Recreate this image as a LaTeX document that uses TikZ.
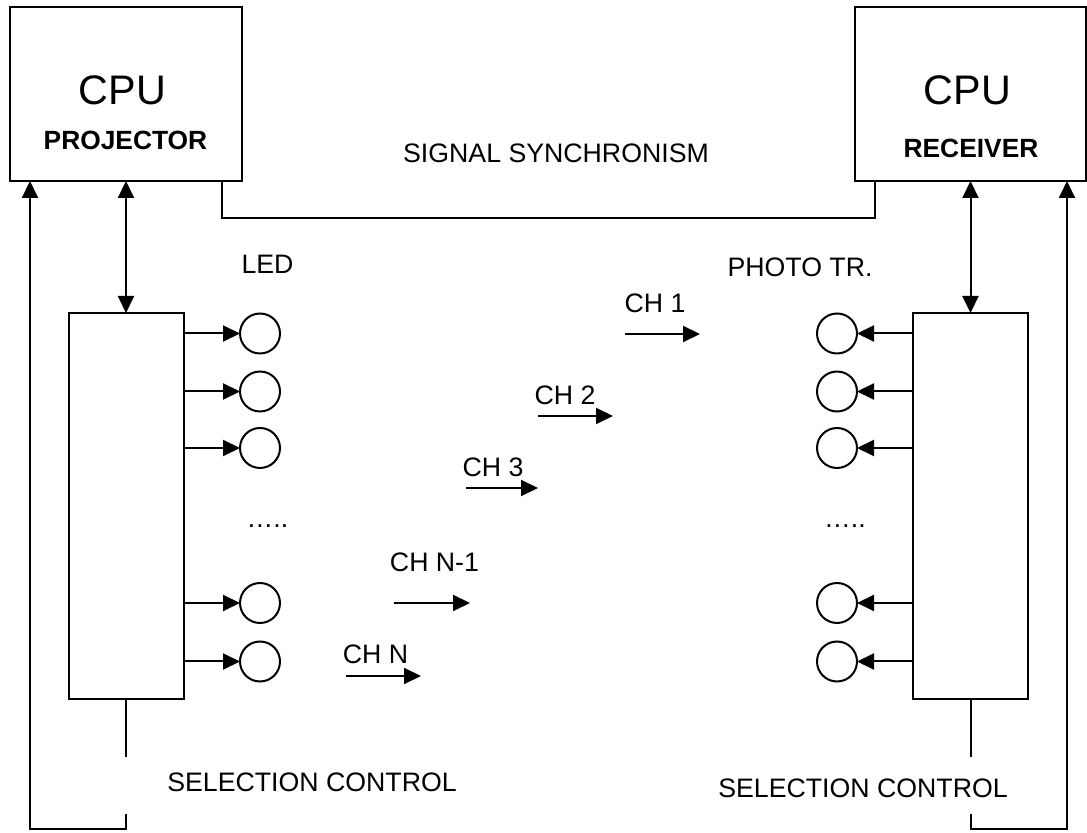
\documentclass[tikz,border=0pt]{standalone}
\usepackage{fontspec}
\setmainfont{Liberation Sans}
\usetikzlibrary{arrows.meta}
\definecolor{ink}{gray}{0.0}

\begin{document}
\begin{tikzpicture}[x=1mm,y=1mm,
  every node/.style={inner sep=0pt,outer sep=0pt,text=ink},
  box/.style={draw=ink,line width=0.4mm},
  lamp/.style={draw=ink,line width=0.4mm,circle,minimum size=8mm},
  lbl/.style={font=\fontsize{15.2}{18}\selectfont},
  big/.style={font=\fontsize{23.5}{27}\selectfont},
  bld/.style={font=\bfseries\fontsize{15}{18}\selectfont},
  wire/.style={draw=ink,line width=0.4mm},
  feed/.style={wire,-{Triangle[length=3.4mm,width=3.2mm]}},
  both/.style={wire,{Triangle[length=3.4mm,width=3.2mm]}-{Triangle[length=3.4mm,width=3.2mm]}}]

\useasboundingbox (0,0) rectangle (217.4,166.6);

% ---- processors ----------------------------------------------------------
\node[box,minimum width=46.4mm,minimum height=34.8mm] (cpuL) at (25.2,147.8) {};
\node[big] (cpuLt) at (24.5,148.6) {CPU};
\node[bld] (cpuLs) at (25.1,138.6) {PROJECTOR};
\node[box,minimum width=46.2mm,minimum height=34.8mm] (cpuR) at (194.1,147.8) {};
\node[big] (cpuRt) at (193.5,148.6) {CPU};
\node[bld] (cpuRs) at (194.2,137) {RECEIVER};

% ---- synchronism ---------------------------------------------------------
\node[lbl] (sync) at (111.2,136) {SIGNAL SYNCHRONISM};
\draw[wire] ([xshift=-4mm]cpuL.south east) |- ([xshift=4mm,yshift=-7.4mm]cpuR.south west)
  -- ([xshift=4mm]cpuR.south west);

% ---- drivers -------------------------------------------------------------
\node[box,minimum width=23mm,minimum height=77.2mm] (drvL) at (25.2,65.4) {};
\node[box,minimum width=23mm,minimum height=77.2mm] (drvR) at (194.1,65.4) {};
\draw[both] (cpuL.south) -- (drvL.north);
\draw[both] (cpuR.south) -- (drvR.north);

\node[lbl] (led) at (53.5,113.8) {LED};
\node[lbl] (photo) at (160,113.2) {PHOTO TR.};

% ---- emitters and receivers ----------------------------------------------
\foreach \i/\y in {1/99.9,2/88.3,3/77,4/46,5/34.3} {
  \node[lamp] (led\i) at (52,\y) {};
  \draw[feed] (drvL.east |- led\i) -- (led\i.west);
  \node[lamp] (pt\i) at (167.4,\y) {};
  \draw[feed] (drvR.west |- pt\i) -- (pt\i.east);
}
\node[lbl] (dotsL) at (53.5,61.3) {…..};
\node[lbl] (dotsR) at (169,61.3) {…..};

% ---- channels ------------------------------------------------------------
\foreach \i/\x/\y/\t/\a/\b/\c in {1/131/106/{CH 1}/125/140/99.8,
                                  2/113/87.6/{CH 2}/107.6/122.6/83.4,
                                  3/98.6/73.2/{CH 3}/93.2/107.6/69,
                                  4/86.9/54.2/{CH N-1}/78.8/94/46,
                                  5/75.1/35.8/{CH N}/69.2/84.2/31.4} {
  \node[lbl] (ch\i) at (\x,\y) {\t};
  \coordinate (ch\i s) at (\a,\c);
  \coordinate (ch\i e) at (\b,\c);
  \draw[feed] (ch\i s) -- (ch\i e);
}

% ---- selection control ---------------------------------------------------
\node[lbl] (selL) at (62.4,10.2) {SELECTION CONTROL};
\node[lbl] (selR) at (172.6,9) {SELECTION CONTROL};
\coordinate (retL) at (25.2,3.8);
\coordinate (retR) at (194.1,3.8);
\draw[wire] (drvL.south) -- ++(0,-11.6);
\draw[wire] (drvR.south) -- ++(0,-11.6);
\draw[feed] (retL) -- ++(0,-3) -| ([xshift=4mm]cpuL.south west);
\draw[feed] (retR) -- ++(0,-3) -| ([xshift=-3.8mm]cpuR.south east);
\end{tikzpicture}
\end{document}
